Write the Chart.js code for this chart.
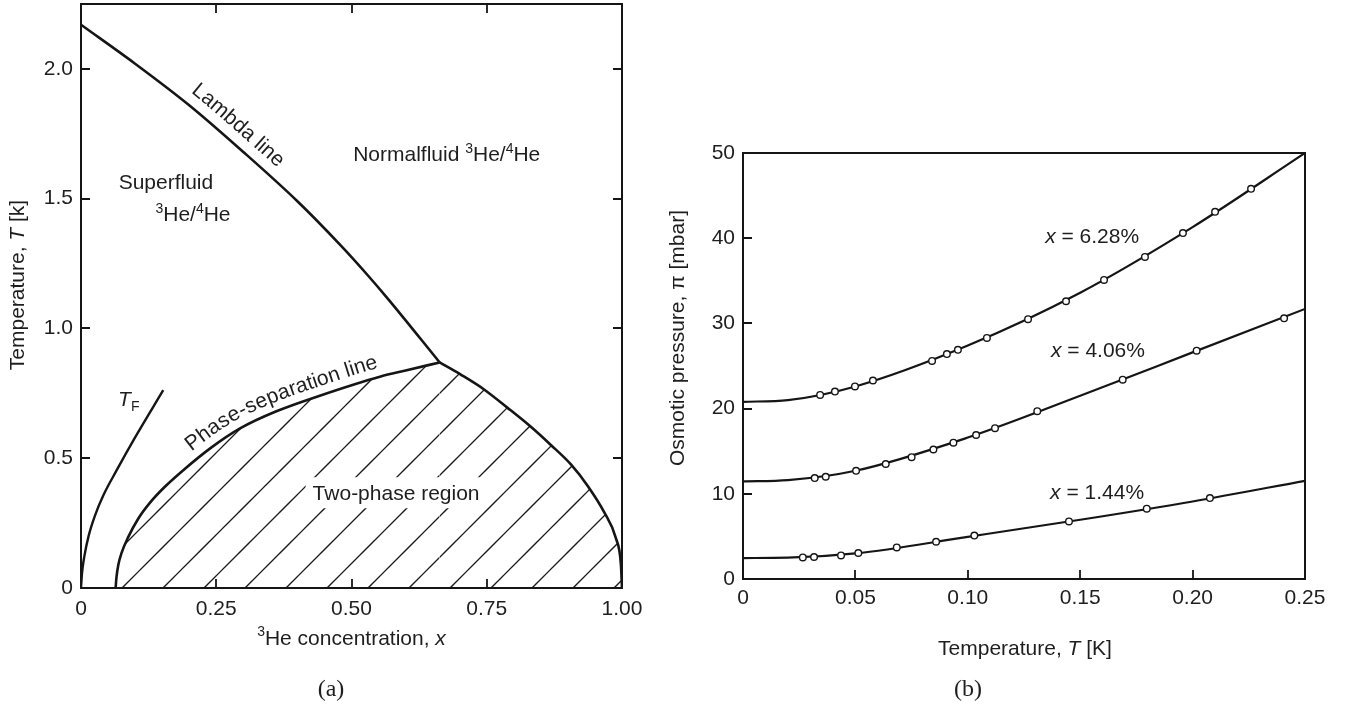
<!DOCTYPE html>
<html><head><meta charset="utf-8">
<script src="https://cdn.jsdelivr.net/npm/chart.js@4.4.0/dist/chart.umd.min.js"></script>
<style>
html,body{margin:0;padding:0;background:#fff;width:1354px;height:718px;overflow:hidden}
#ca{position:absolute;left:0;top:0}
#cb{position:absolute;left:650px;top:0}
</style></head><body>
<canvas id="ca" width="650" height="718"></canvas>
<canvas id="cb" width="704" height="718"></canvas>
<script>
// ===== (a) phase diagram data =====
const lambdaX = [0, 0.10, 0.20, 0.30, 0.40, 0.48, 0.53, 0.567, 0.663];
const lambdaT = [2.17, 2.02, 1.86, 1.68, 1.49, 1.32, 1.205, 1.115, 0.869];
const sepLeftX = [0.064, 0.0655, 0.069, 0.075, 0.087, 0.106, 0.128, 0.155, 0.189, 0.24, 0.294, 0.36, 0.44, 0.554, 0.60, 0.663];
const sepLeftT = [0, 0.04, 0.09, 0.135, 0.195, 0.268, 0.33, 0.39, 0.454, 0.54, 0.615, 0.68, 0.74, 0.815, 0.838, 0.869];
const sepRightX = [0.663, 0.702, 0.745, 0.788, 0.831, 0.868, 0.906, 0.937, 0.967, 0.989, 0.998, 1.0];
const sepRightT = [0.869, 0.822, 0.765, 0.695, 0.622, 0.552, 0.475, 0.392, 0.292, 0.19, 0.09, 0];
const tfX = [0, 0.002, 0.006, 0.014, 0.026, 0.042, 0.065, 0.10, 0.152];
const tfT = [0, 0.06, 0.12, 0.20, 0.28, 0.36, 0.45, 0.58, 0.762];
const xTicksA = [0, 0.25, 0.5, 0.75, 1.0];
const xLabelsA = ['0', '0.25', '0.50', '0.75', '1.00'];
const yTicksA = [0, 0.5, 1.0, 1.5, 2.0];
const yLabelsA = ['0', '0.5', '1.0', '1.5', '2.0'];

// ===== (b) osmotic pressure data: measured points =====
const t628 = [0.0343, 0.0409, 0.0498, 0.0578, 0.0841, 0.0907, 0.0956, 0.1085, 0.1268, 0.1437, 0.1606, 0.1788, 0.1957, 0.2100, 0.2260];
const p628 = [21.6, 22.0, 22.6, 23.3, 25.6, 26.4, 26.9, 28.3, 30.5, 32.6, 35.1, 37.8, 40.6, 43.1, 45.8];
const t406 = [0.0319, 0.0368, 0.0503, 0.0635, 0.075, 0.0847, 0.0936, 0.1037, 0.1121, 0.1309, 0.1689, 0.2018, 0.2407];
const p406 = [11.85, 12.0, 12.7, 13.5, 14.3, 15.2, 16.0, 16.9, 17.7, 19.7, 23.4, 26.8, 30.6];
const t144 = [0.0266, 0.0316, 0.0436, 0.0513, 0.0684, 0.0859, 0.1029, 0.145, 0.1796, 0.2077];
const p144 = [2.53, 2.58, 2.77, 3.05, 3.71, 4.37, 5.1, 6.76, 8.25, 9.5];
// fitted curves
const curveT = [0, 0.02, 0.05, 0.10, 0.15, 0.20, 0.25];
const curve628 = [20.8, 21.0, 22.6, 27.4, 33.6, 41.3, 50.0];
const curve406 = [11.45, 11.6, 12.7, 16.6, 21.5, 26.6, 31.7];
const curve144 = [2.46, 2.5, 3.0, 4.95, 6.95, 9.1, 11.53];
const xTicksB = [0, 0.05, 0.10, 0.15, 0.20, 0.25];
const xLabelsB = ['0', '0.05', '0.10', '0.15', '0.20', '0.25'];
const yTicksB = [0, 10, 20, 30, 40, 50];
const yLabelsB = ['0', '10', '20', '30', '40', '50'];

// ===== helpers =====
const FAM = '"Liberation Sans", Arial, Helvetica, sans-serif';
const INK = '#151515';
const zip = (xs, ys) => xs.map((x, i) => ({x: x, y: ys[i]}));
function makePattern() {
  const c = document.createElement('canvas');
  c.width = 41; c.height = 41;
  const g = c.getContext('2d');
  g.strokeStyle = '#1a1a1a'; g.lineWidth = 1.25;
  [13, 54].forEach(k => { g.beginPath(); g.moveTo(-6, k + 6); g.lineTo(k + 6, -6); g.stroke(); });
  return g.createPattern(c, 'repeat');
}
function drawRich(ctx, segs, x, yc, size, align) {
  const font = s => (s.it ? 'italic ' : '') + ((s.sup || s.sub) ? Math.round(size * 0.66) : size) + 'px ' + FAM;
  let total = 0;
  segs.forEach(s => { ctx.font = font(s); total += ctx.measureText(s.t).width; });
  let cx = align === 'center' ? x - total / 2 : (align === 'right' ? x - total : x);
  const base = yc + size * 0.36;
  ctx.textAlign = 'left'; ctx.textBaseline = 'alphabetic';
  segs.forEach(s => {
    ctx.font = font(s);
    const dy = s.sup ? -size * 0.40 : (s.sub ? size * 0.24 : 0);
    ctx.fillText(s.t, cx, base + dy);
    cx += ctx.measureText(s.t).width;
  });
}
function curvePixels(chart, idx) {
  const pts = chart.getDatasetMeta(idx).data, out = [];
  for (let i = 0; i < pts.length - 1; i++) {
    const a = pts[i], b = pts[i + 1];
    const c1x = a.cp2x ?? a.x, c1y = a.cp2y ?? a.y, c2x = b.cp1x ?? b.x, c2y = b.cp1y ?? b.y;
    for (let k = 0; k < 20; k++) {
      const t = k / 20, u = 1 - t;
      out.push([u*u*u*a.x + 3*u*u*t*c1x + 3*u*t*t*c2x + t*t*t*b.x,
                u*u*u*a.y + 3*u*u*t*c1y + 3*u*t*t*c2y + t*t*t*b.y]);
    }
  }
  const l = pts[pts.length - 1]; out.push([l.x, l.y]);
  return out;
}
function textOnCurve(ctx, text, path, startPx, offset, size) {
  const cum = [0];
  for (let i = 1; i < path.length; i++) cum.push(cum[i-1] + Math.hypot(path[i][0]-path[i-1][0], path[i][1]-path[i-1][1]));
  const at = d => {
    d = Math.max(0, Math.min(cum[cum.length-1], d));
    let j = 0; while (j < cum.length - 2 && cum[j+1] < d) j++;
    const f = (d - cum[j]) / Math.max(1e-9, cum[j+1] - cum[j]);
    return [path[j][0] + f*(path[j+1][0]-path[j][0]), path[j][1] + f*(path[j+1][1]-path[j][1])];
  };
  let i0 = 0; while (i0 < path.length - 1 && path[i0][0] < startPx) i0++;
  let d = cum[i0];
  ctx.font = size + 'px ' + FAM; ctx.textAlign = 'left'; ctx.textBaseline = 'alphabetic';
  for (const ch of text) {
    const w = ctx.measureText(ch).width;
    const m = d + w / 2, p = at(m), p1 = at(m - 8), p2 = at(m + 8);
    const a = Math.atan2(p2[1] - p1[1], p2[0] - p1[0]);
    ctx.save(); ctx.translate(p[0], p[1]); ctx.rotate(a); ctx.fillText(ch, -w / 2, -offset); ctx.restore();
    d += w;
  }
}
function frameTicks(chart, sides, len) {
  const ctx = chart.ctx, ca = chart.chartArea, xs = chart.scales.x, ys = chart.scales.y;
  ctx.save();
  ctx.strokeStyle = INK; ctx.lineWidth = 2;
  ctx.strokeRect(ca.left, ca.top, ca.right - ca.left, ca.bottom - ca.top);
  ctx.lineWidth = 1.8; ctx.beginPath();
  xs.ticks.forEach(t => {
    const px = Math.round(xs.getPixelForValue(t.value));
    if (px <= ca.left + 2 || px >= ca.right - 2) return;
    if (sides.includes('b')) { ctx.moveTo(px, ca.bottom); ctx.lineTo(px, ca.bottom - len); }
    if (sides.includes('t')) { ctx.moveTo(px, ca.top); ctx.lineTo(px, ca.top + len); }
  });
  ys.ticks.forEach(t => {
    const py = Math.round(ys.getPixelForValue(t.value));
    if (py <= ca.top + 2 || py >= ca.bottom - 2) return;
    if (sides.includes('l')) { ctx.moveTo(ca.left, py); ctx.lineTo(ca.left + len, py); }
    if (sides.includes('r')) { ctx.moveTo(ca.right, py); ctx.lineTo(ca.right - len, py); }
  });
  ctx.stroke(); ctx.restore();
}
function axisCfg(tickVals, tickLabels, min, max, fitFn, pad) {
  return {
    type: 'linear', min: min, max: max,
    afterBuildTicks: s => { s.ticks = tickVals.map(v => ({value: v})); },
    afterFit: fitFn,
    grid: {display: false, drawTicks: false},
    border: {display: false},
    ticks: {
      autoSkip: false, maxRotation: 0, includeBounds: false, padding: pad,
      color: '#1e1e1e', font: {family: FAM, size: 21},
      callback: v => { const i = tickVals.findIndex(t => Math.abs(t - v) < 1e-9); return i >= 0 ? tickLabels[i] : ''; }
    }
  };
}
const LW = {borderColor: INK, pointRadius: 0, cubicInterpolationMode: 'monotone'};

// ===== chart (a) =====
const hatch = makePattern();
const chartA = new Chart(document.getElementById('ca'), {
  type: 'line',
  data: {datasets: [
    Object.assign({data: zip(sepLeftX, sepLeftT), borderWidth: 2.6, fill: 'origin', backgroundColor: hatch}, LW),
    Object.assign({data: zip(sepRightX, sepRightT), borderWidth: 2.6, fill: 'origin', backgroundColor: hatch}, LW),
    Object.assign({data: zip(lambdaX, lambdaT), borderWidth: 2.6, fill: false}, LW),
    Object.assign({data: zip(tfX, tfT), borderWidth: 2.4, fill: false}, LW)
  ]},
  options: {
    responsive: false, animation: false, devicePixelRatio: 1,
    layout: {padding: {left: 0, top: 4, right: 28, bottom: 0}},
    plugins: {legend: {display: false}, tooltip: {enabled: false}},
    scales: {
      x: axisCfg(xTicksA, xLabelsA, 0, 1, s => { s.height = 130; s.paddingLeft = 0; s.paddingRight = 0; }, 9),
      y: axisCfg(yTicksA, yLabelsA, 0, 2.25, s => { s.width = 81; s.paddingTop = 0; s.paddingBottom = 0; }, 8)
    }
  },
  plugins: [{
    id: 'decorA',
    afterDatasetsDraw(chart) { frameTicks(chart, 'lbrt', 9); },
    afterDraw(chart) {
      const ctx = chart.ctx, xs = chart.scales.x, ys = chart.scales.y, ca = chart.chartArea;
      const X = v => xs.getPixelForValue(v), Y = v => ys.getPixelForValue(v);
      ctx.save(); ctx.fillStyle = '#1e1e1e';
      const cx = X(0.5824), cy = Y(0.369);
      ctx.font = '21px ' + FAM;
      const w = ctx.measureText('Two-phase region').width;
      ctx.fillStyle = '#fff'; ctx.fillRect(cx - w/2 - 7, cy - 15, w + 14, 31);
      ctx.fillStyle = '#1e1e1e';
      drawRich(ctx, [{t: 'Two-phase region'}], cx, cy, 21, 'center');
      drawRich(ctx, [{t: 'Normalfluid '}, {t: '3', sup: 1}, {t: 'He/'}, {t: '4', sup: 1}, {t: 'He'}], X(0.676), Y(1.673), 21, 'center');
      drawRich(ctx, [{t: 'Superfluid'}], X(0.157), Y(1.565), 21, 'center');
      drawRich(ctx, [{t: '3', sup: 1}, {t: 'He/'}, {t: '4', sup: 1}, {t: 'He'}], X(0.207), Y(1.442), 21, 'center');
      drawRich(ctx, [{t: 'T', it: 1}, {t: 'F', sub: 1}], X(0.0685), Y(0.729), 21, 'left');
      textOnCurve(ctx, 'Lambda line', curvePixels(chart, 2), X(0.188), 11, 21);
      textOnCurve(ctx, 'Phase-separation line', curvePixels(chart, 0), X(0.212), 9, 21);
      drawRich(ctx, [{t: '3', sup: 1}, {t: 'He concentration, '}, {t: 'x', it: 1}], (ca.left + ca.right) / 2, ca.bottom + 49, 21, 'center');
      ctx.save(); ctx.translate(16, 285); ctx.rotate(-Math.PI / 2);
      drawRich(ctx, [{t: 'Temperature, '}, {t: 'T', it: 1}, {t: ' [k]'}], 0, 0, 21, 'center');
      ctx.restore();
      ctx.font = '24px "Liberation Serif", "DejaVu Serif", serif'; ctx.textAlign = 'center'; ctx.textBaseline = 'middle';
      ctx.fillText('(a)', 331, 690);
      ctx.restore();
    }
  }]
});

// ===== chart (b) =====
const MK = {showLine: false, pointRadius: 3.3, pointBackgroundColor: '#fff', pointBorderColor: INK, pointBorderWidth: 1.4, borderColor: INK, fill: false};
const CV = {borderColor: INK, borderWidth: 2.2, pointRadius: 0, fill: false, cubicInterpolationMode: 'monotone'};
const chartB = new Chart(document.getElementById('cb'), {
  type: 'line',
  data: {datasets: [
    Object.assign({data: zip(t628, p628)}, MK),
    Object.assign({data: zip(t406, p406)}, MK),
    Object.assign({data: zip(t144, p144)}, MK),
    Object.assign({data: zip(curveT, curve628)}, CV),
    Object.assign({data: zip(curveT, curve406)}, CV),
    Object.assign({data: zip(curveT, curve144)}, CV)
  ]},
  options: {
    responsive: false, animation: false, devicePixelRatio: 1,
    layout: {padding: {left: 0, top: 153, right: 49, bottom: 0}},
    plugins: {legend: {display: false}, tooltip: {enabled: false}},
    scales: {
      x: axisCfg(xTicksB, xLabelsB, 0, 0.25, s => { s.height = 139; s.paddingLeft = 0; s.paddingRight = 0; }, 7),
      y: axisCfg(yTicksB, yLabelsB, 0, 50, s => { s.width = 93; s.paddingTop = 0; s.paddingBottom = 0; }, 8)
    }
  },
  plugins: [{
    id: 'decorB',
    afterDatasetsDraw(chart) { frameTicks(chart, 'lb', 9); },
    afterDraw(chart) {
      const ctx = chart.ctx, xs = chart.scales.x, ys = chart.scales.y, ca = chart.chartArea;
      const X = v => xs.getPixelForValue(v), Y = v => ys.getPixelForValue(v);
      ctx.save(); ctx.fillStyle = '#1e1e1e';
      drawRich(ctx, [{t: 'x', it: 1}, {t: ' = 6.28%'}], X(0.1553), Y(40.27), 21, 'center');
      drawRich(ctx, [{t: 'x', it: 1}, {t: ' = 4.06%'}], X(0.1579), Y(26.9), 21, 'center');
      drawRich(ctx, [{t: 'x', it: 1}, {t: ' = 1.44%'}], X(0.1575), Y(10.3), 21, 'center');
      drawRich(ctx, [{t: 'Temperature, '}, {t: 'T', it: 1}, {t: ' [K]'}], (ca.left + ca.right) / 2 + 1, ca.bottom + 68, 21, 'center');
      ctx.save(); ctx.translate(676 - 650, 338); ctx.rotate(-Math.PI / 2);
      drawRich(ctx, [{t: 'Osmotic pressure, π [mbar]'}], 0, 0, 21, 'center');
      ctx.restore();
      ctx.font = '24px "Liberation Serif", "DejaVu Serif", serif'; ctx.textAlign = 'center'; ctx.textBaseline = 'middle';
      ctx.fillText('(b)', 968 - 650, 690);
      ctx.restore();
    }
  }]
});
</script>
</body></html>
